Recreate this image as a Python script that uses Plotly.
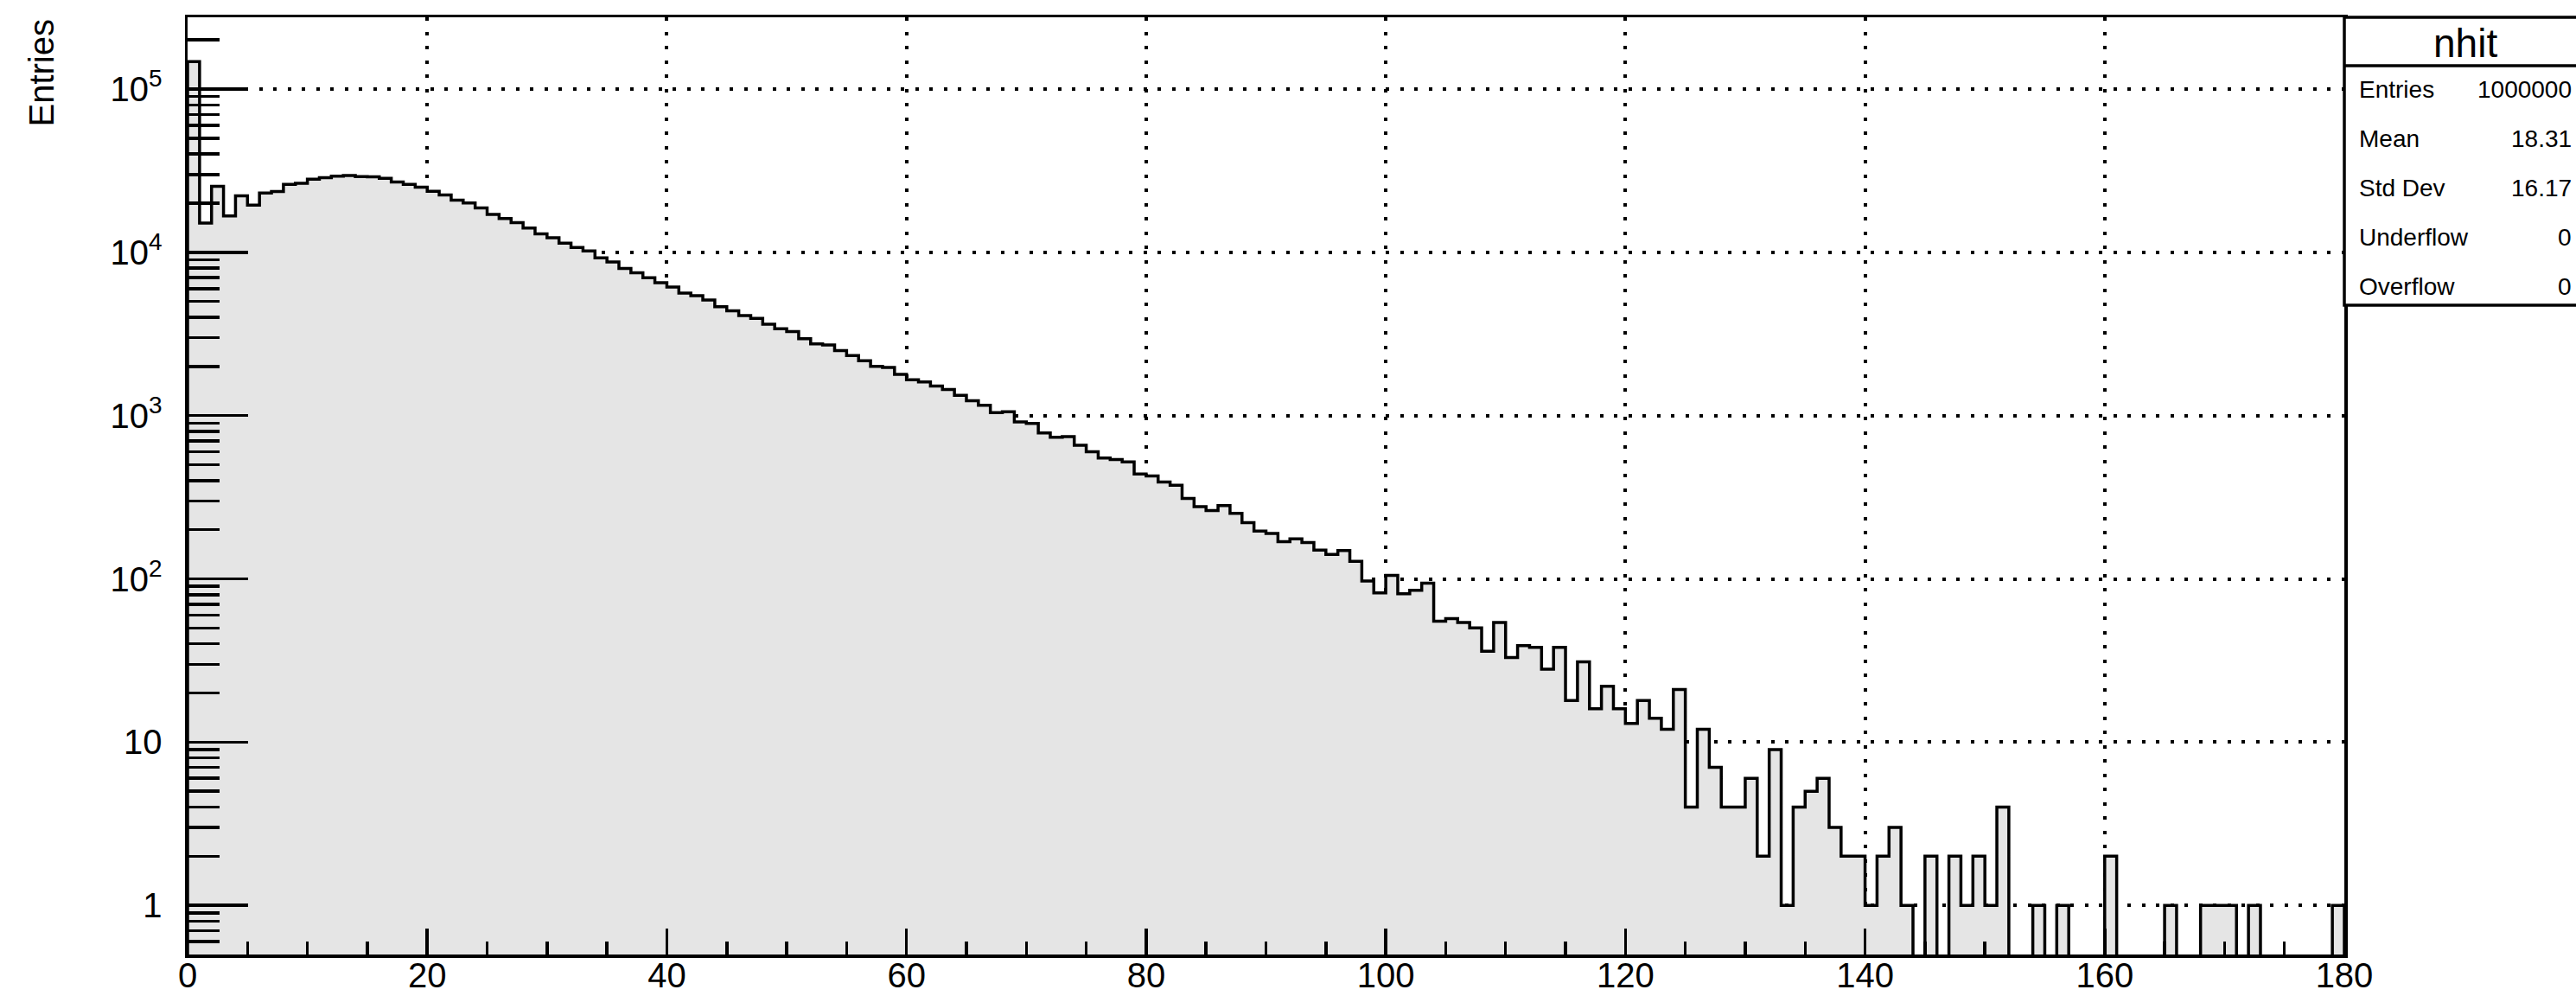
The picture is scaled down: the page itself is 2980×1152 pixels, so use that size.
import plotly.graph_objects as go
import math

# ---------------- data ----------------
hist_title = "nhit"
x_min, x_max, n_bins = 0, 180, 180
counts = [
    147500, 15100, 25400, 16700, 22200, 19500, 23100, 23600, 26100, 26500,
    28100, 28700, 29300, 29600, 29100, 29000, 28400, 27000, 26100, 25100,
    23700, 22500, 20900, 20100, 18700, 17100, 16100, 15200, 14100, 13000,
    12300, 11400, 10700, 10200, 9250, 8740, 7960, 7490, 7000, 6520,
    6130, 5630, 5430, 5110, 4650, 4380, 4100, 3940, 3630, 3400,
    3270, 2960, 2750, 2710, 2500, 2330, 2170, 2000, 1970, 1790,
    1660, 1610, 1520, 1445, 1333, 1235, 1158, 1042, 1055, 915,
    896, 783, 737, 743, 658, 601, 550, 539, 521, 439,
    427, 392, 374, 311, 277, 262, 281, 252, 221, 196,
    190, 169, 176, 167, 150, 141, 149, 128, 97, 82,
    105, 81, 85, 94, 55, 57, 54, 50, 36, 54,
    33, 39, 38, 28, 38, 18, 31, 16, 22, 16,
    13, 18, 14, 12, 21, 4, 12, 7, 4, 4,
    6, 2, 9, 1, 4, 5, 6, 3, 2, 2,
    1, 2, 3, 1, 0, 2, 0, 2, 1, 2,
    1, 4, 0, 0, 1, 0, 1, 0, 0, 0,
    2, 0, 0, 0, 0, 1, 0, 0, 1, 1,
    1, 0, 1, 0, 0, 0, 0, 0, 0, 1,
]
stat_labels = ["Entries", "Mean", "Std Dev", "Underflow", "Overflow"]
stat_values = ["1000000", "18.31", "16.17", "0", "0"]
x_tick_vals = list(range(0, 181, 20))
y_tick_vals = [1, 10, 100, 1000, 10000, 100000]
y_tick_text = ["1", "10", "10<sup>2</sup>", "10<sup>3</sup>", "10<sup>4</sup>", "10<sup>5</sup>"]
y_title = "Entries"
y_min, y_max_log = 0.5, 5.44

# ---------------- geometry ----------------
W, H = 2980, 1152
L, R, T, B = 217, 268, 20, 48
PW, PH = W - L - R, H - T - B
FONT = "Liberation Sans, Arial, Helvetica, sans-serif"
FILL = "rgb(229,229,229)"

def px_x(p):
    return (p - L) / PW

def px_y(p):
    return (H - B - p) / PH

# ---------------- histogram outline ----------------
bw = (x_max - x_min) / n_bins
edges = [x_min + i * bw for i in range(n_bins + 1)]
floor = 1e-3
vals = [c if c > 0 else floor for c in counts]
xs = [edges[0]] + edges[:-1] + [edges[-1], edges[-1]]
ys = [floor] + vals + [vals[-1], floor]

fig = go.Figure()
fig.add_trace(go.Scatter(
    x=xs, y=ys, mode="lines", line_shape="hv",
    line=dict(color="black", width=3.5),
    fill="toself", fillcolor=FILL, hoverinfo="skip", showlegend=False,
))

minor_y = [m * 10 ** k for k in range(-1, 6) for m in range(2, 10)
           if y_min <= m * 10 ** k <= 10 ** y_max_log]

GRID_DASH = "4px,12.5px"

fig.update_xaxes(
    range=[x_min, x_max], tickmode="array", tickvals=x_tick_vals,
    ticks="inside", ticklen=30, tickwidth=3.5, tickcolor="black",
    showgrid=True, gridcolor="black", gridwidth=4, griddash=GRID_DASH,
    minor=dict(dtick=5, tick0=0, ticks="inside", ticklen=15, tickwidth=3.5,
               tickcolor="black", showgrid=False),
    showline=True, linecolor="black", linewidth=3.5, mirror=True,
    zeroline=False, layer="above traces", automargin=False,
    tickfont=dict(family=FONT, size=40, color="black"),
    ticklabelstandoff=-14,
)
fig.update_yaxes(
    type="log", range=[math.log10(y_min), y_max_log],
    tickmode="array", tickvals=y_tick_vals, ticktext=y_tick_text,
    ticks="inside", ticklen=70, tickwidth=3.5, tickcolor="black",
    showgrid=True, gridcolor="black", gridwidth=4, griddash=GRID_DASH,
    minor=dict(tickmode="array", tickvals=minor_y, ticks="inside", ticklen=37,
               tickwidth=3.5, tickcolor="black", showgrid=False),
    showline=True, linecolor="black", linewidth=3.5, mirror=True,
    zeroline=False, layer="above traces", automargin=False,
    tickfont=dict(family=FONT, size=40, color="black"),
    ticklabelstandoff=18,
)

annotations = [
    dict(text=y_title, textangle=-90, xref="paper", yref="paper",
         x=px_x(47), y=1.0, xanchor="center", yanchor="top", showarrow=False,
         font=dict(family=FONT, size=40, color="black")),
    dict(text=hist_title, xref="paper", yref="paper", x=px_x(2852), y=px_y(50),
         xanchor="center", yanchor="middle", showarrow=False,
         font=dict(family=FONT, size=46, color="black")),
]
row_y = [104, 161, 218, 274, 331]
for lab, val, ry in zip(stat_labels, stat_values, row_y):
    annotations.append(dict(text=lab, xref="paper", yref="paper", x=px_x(2727), y=px_y(ry),
                            xanchor="left", yanchor="middle", showarrow=False,
                            font=dict(family=FONT, size=28, color="black")))
    annotations.append(dict(text=val, xref="paper", yref="paper", x=px_x(2977), y=px_y(ry),
                            xanchor="right", yanchor="middle", showarrow=False,
                            font=dict(family=FONT, size=28, color="black")))

shapes = [
    dict(type="rect", xref="paper", yref="paper", x0=px_x(2712), x1=px_x(3000),
         y0=px_y(353), y1=px_y(20), line=dict(color="black", width=3.5), fillcolor="white",
         layer="above"),
    dict(type="line", xref="paper", yref="paper", x0=px_x(2712), x1=px_x(3000),
         y0=px_y(76), y1=px_y(76), line=dict(color="black", width=3.5)),
]

fig.update_layout(
    width=W, height=H, margin=dict(l=L, r=R, t=T, b=B, pad=0, autoexpand=False),
    paper_bgcolor="white", plot_bgcolor="white",
    showlegend=False, annotations=annotations, shapes=shapes,
    font=dict(family=FONT, color="black"),
)

fig.write_html("out.html", config={"displayModeBar": False, "staticPlot": True},
               post_script="document.body.style.margin='0';document.body.style.overflow='hidden';")
